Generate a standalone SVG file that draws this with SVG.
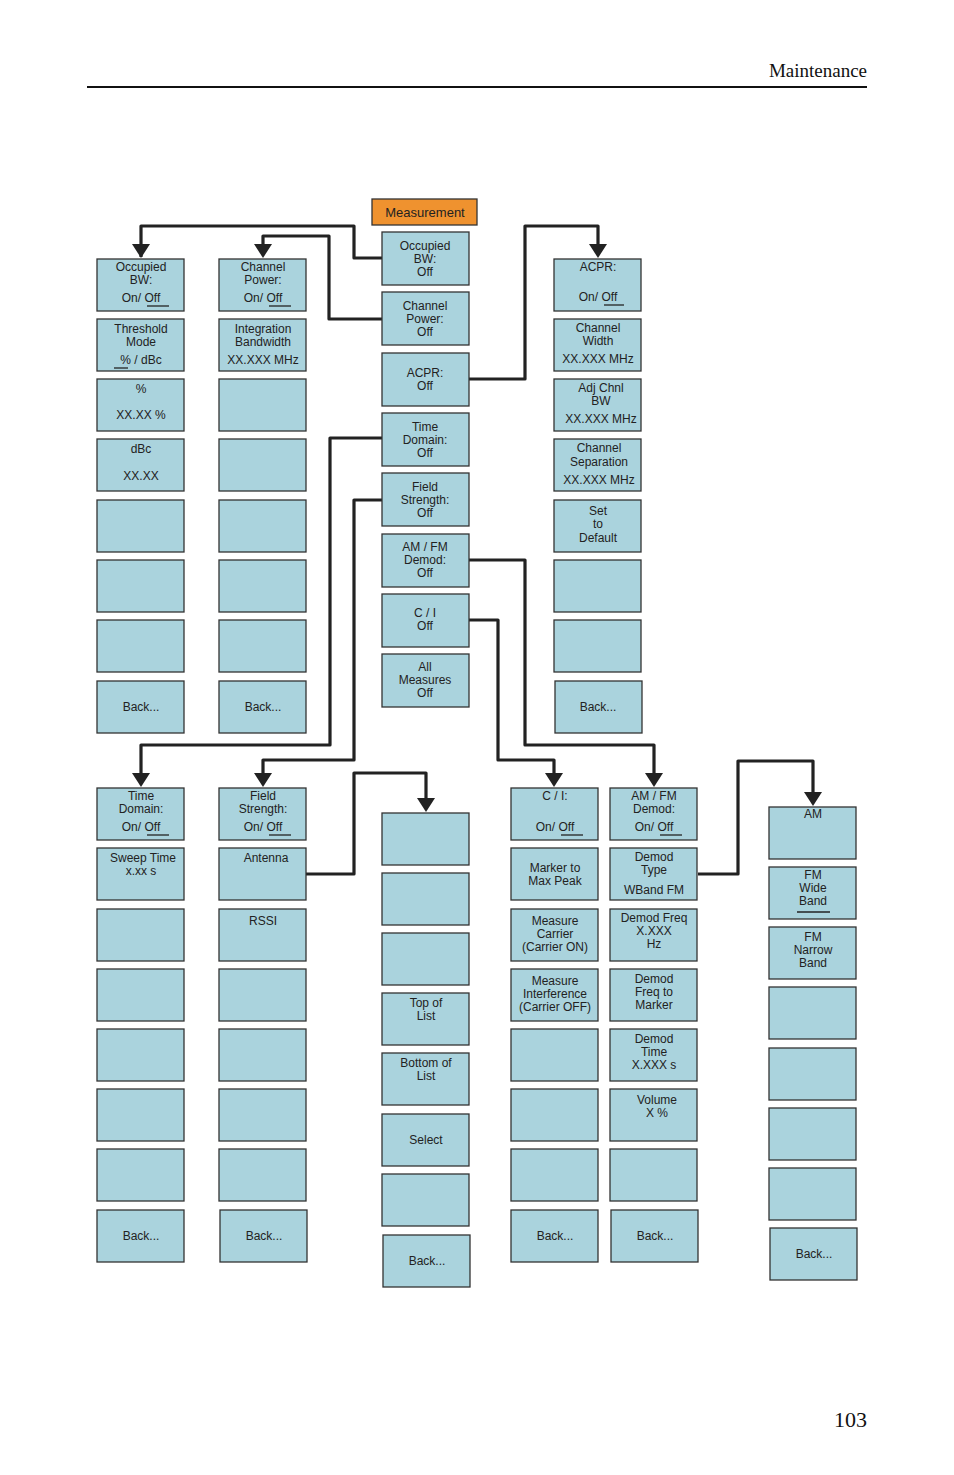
<svg xmlns="http://www.w3.org/2000/svg" width="954" height="1475" viewBox="0 0 954 1475">
<style>
.b{fill:#aad3dd;stroke:#333;stroke-width:1.3}
text{font-family:"Liberation Sans",Arial,sans-serif;font-size:12px;fill:#222;text-anchor:middle}
.u{stroke:#222;stroke-width:1.3}
.c{fill:none;stroke:#222;stroke-width:3.2;stroke-linejoin:round}
.hd{font-family:"Liberation Serif",serif;font-size:19px;text-anchor:end;fill:#111}
</style>
<defs><marker id="a" markerWidth="6" markerHeight="5" refX="3" refY="5" orient="auto" markerUnits="strokeWidth" viewBox="0 0 6 5"><path d="M0,0H6L3,5z" fill="#222"/></marker>
<marker id="ad" viewBox="0 0 18 14" refX="9" refY="14" markerWidth="18" markerHeight="14" markerUnits="userSpaceOnUse" orient="auto-start-reverse"><path d="M0,0H18L9,14z" fill="#222"/></marker></defs>
<text class="hd" x="867" y="77">Maintenance</text>
<line x1="87" y1="87" x2="867" y2="87" stroke="#111" stroke-width="2"/>
<text class="hd" x="867" y="1427" style="font-size:22px">103</text>
<g id="connectors">
<path class="c" d="M382,258H354V226H141V257" marker-end="url(#ad)" style="marker-end:none"/>
<path d="M132,244H150L141,258z" fill="#222"/>
<path class="c" d="M382,319H329V236H263V246"/><path d="M254,244H272L263,258z" fill="#222"/>
<path class="c" d="M469,379H525V226H598V246"/><path d="M589,244H607L598,258z" fill="#222"/>
<path class="c" d="M382,438H330V745H141V775"/><path d="M132,773H150L141,787z" fill="#222"/>
<path class="c" d="M382,500H354V760H263V775"/><path d="M254,773H272L263,787z" fill="#222"/>
<path class="c" d="M469,560H525V745H654V775"/><path d="M645,773H663L654,787z" fill="#222"/>
<path class="c" d="M469,620H498V760H554V775"/><path d="M545,773H563L554,787z" fill="#222"/>
<path class="c" d="M306,874H354V773H426V800"/><path d="M417,798H435L426,812z" fill="#222"/>
<path class="c" d="M698,874H738V761H813V794"/><path d="M804,792H822L813,806z" fill="#222"/>
</g>
<g id="measurement"><rect x="372" y="199" width="105" height="26" fill="#ef922f" stroke="#333" stroke-width="1.3"/><text x="425" y="217" style="font-size:13px">Measurement</text></g>
<!-- top col1 -->
<g id="t1a"><rect class="b" x="97" y="259" width="87" height="52"/><text x="141" y="271">Occupied</text><text x="141" y="284">BW:</text><text x="141" y="302">On/  Off</text><line class="u" x1="147" y1="306" x2="169" y2="306"/></g>
<g id="t1b"><rect class="b" x="97" y="319" width="87" height="52"/><text x="141" y="333">Threshold</text><text x="141" y="346">Mode</text><text x="141" y="364">%  /  dBc</text><line class="u" x1="114" y1="368" x2="128" y2="368"/></g>
<g id="t1c"><rect class="b" x="97" y="379" width="87" height="52"/><text x="141" y="393">%</text><text x="141" y="419">XX.XX %</text></g>
<g id="t1d"><rect class="b" x="97" y="439" width="87" height="52"/><text x="141" y="453">dBc</text><text x="141" y="480">XX.XX</text></g>
<g id="t1e"><rect class="b" x="97" y="500" width="87" height="52"/></g>
<g id="t1f"><rect class="b" x="97" y="560" width="87" height="52"/></g>
<g id="t1g"><rect class="b" x="97" y="620" width="87" height="52"/></g>
<g id="t1h"><rect class="b" x="97" y="681" width="87" height="52"/><text x="141" y="711">Back...</text></g>
<!-- top col2 -->
<g id="t2a"><rect class="b" x="219" y="259" width="87" height="52"/><text x="263" y="271">Channel</text><text x="263" y="284">Power:</text><text x="263" y="302">On/  Off</text><line class="u" x1="269" y1="306" x2="291" y2="306"/></g>
<g id="t2b"><rect class="b" x="219" y="319" width="87" height="52"/><text x="263" y="333">Integration</text><text x="263" y="346">Bandwidth</text><text x="263" y="364">XX.XXX MHz</text></g>
<g id="t2c"><rect class="b" x="219" y="379" width="87" height="52"/></g>
<g id="t2d"><rect class="b" x="219" y="439" width="87" height="52"/></g>
<g id="t2e"><rect class="b" x="219" y="500" width="87" height="52"/></g>
<g id="t2f"><rect class="b" x="219" y="560" width="87" height="52"/></g>
<g id="t2g"><rect class="b" x="219" y="620" width="87" height="52"/></g>
<g id="t2h"><rect class="b" x="219" y="681" width="87" height="52"/><text x="263" y="711">Back...</text></g>
<!-- center col -->
<g id="m1"><rect class="b" x="382" y="232" width="87" height="53"/><text x="425" y="250">Occupied</text><text x="425" y="263">BW:</text><text x="425" y="276">Off</text></g>
<g id="m2"><rect class="b" x="382" y="292" width="87" height="53"/><text x="425" y="310">Channel</text><text x="425" y="323">Power:</text><text x="425" y="336">Off</text></g>
<g id="m3"><rect class="b" x="382" y="353" width="87" height="53"/><text x="425" y="377">ACPR:</text><text x="425" y="390">Off</text></g>
<g id="m4"><rect class="b" x="382" y="413" width="87" height="53"/><text x="425" y="431">Time</text><text x="425" y="444">Domain:</text><text x="425" y="457">Off</text></g>
<g id="m5"><rect class="b" x="382" y="473" width="87" height="53"/><text x="425" y="491">Field</text><text x="425" y="504">Strength:</text><text x="425" y="517">Off</text></g>
<g id="m6"><rect class="b" x="382" y="534" width="87" height="53"/><text x="425" y="551">AM / FM</text><text x="425" y="564">Demod:</text><text x="425" y="577">Off</text></g>
<g id="m7"><rect class="b" x="382" y="594" width="87" height="53"/><text x="425" y="617">C / I</text><text x="425" y="630">Off</text></g>
<g id="m8"><rect class="b" x="382" y="654" width="87" height="53"/><text x="425" y="671">All</text><text x="425" y="684">Measures</text><text x="425" y="697">Off</text></g>
<!-- right col -->
<g id="r1"><rect class="b" x="554" y="259" width="87" height="52"/><text x="598" y="271">ACPR:</text><text x="598" y="301">On/  Off</text><line class="u" x1="604" y1="305" x2="624" y2="305"/></g>
<g id="r2"><rect class="b" x="554" y="319" width="87" height="52"/><text x="598" y="332">Channel</text><text x="598" y="345">Width</text><text x="598" y="363">XX.XXX MHz</text></g>
<g id="r3"><rect class="b" x="554" y="379" width="87" height="52"/><text x="601" y="392">Adj Chnl</text><text x="601" y="405">BW</text><text x="601" y="423">XX.XXX MHz</text></g>
<g id="r4"><rect class="b" x="554" y="439" width="87" height="52"/><text x="599" y="452">Channel</text><text x="599" y="466">Separation</text><text x="599" y="484">XX.XXX MHz</text></g>
<g id="r5"><rect class="b" x="554" y="500" width="87" height="52"/><text x="598" y="515">Set</text><text x="598" y="528">to</text><text x="598" y="542">Default</text></g>
<g id="r6"><rect class="b" x="554" y="560" width="87" height="52"/></g>
<g id="r7"><rect class="b" x="554" y="620" width="87" height="52"/></g>
<g id="r8"><rect class="b" x="555" y="681" width="87" height="52"/><text x="598" y="711">Back...</text></g>
<!-- bottom col1 -->
<g id="b1a"><rect class="b" x="97" y="788" width="87" height="52"/><text x="141" y="800">Time</text><text x="141" y="813">Domain:</text><text x="141" y="831">On/  Off</text><line class="u" x1="147" y1="835" x2="169" y2="835"/></g>
<g id="b1b"><rect class="b" x="97" y="848" width="87" height="52"/><text x="143" y="862">Sweep Time</text><text x="141" y="875">x.xx  s</text></g>
<g id="b1c"><rect class="b" x="97" y="909" width="87" height="52"/></g>
<g id="b1d"><rect class="b" x="97" y="969" width="87" height="52"/></g>
<g id="b1e"><rect class="b" x="97" y="1029" width="87" height="52"/></g>
<g id="b1f"><rect class="b" x="97" y="1089" width="87" height="52"/></g>
<g id="b1g"><rect class="b" x="97" y="1149" width="87" height="52"/></g>
<g id="b1h"><rect class="b" x="97" y="1210" width="87" height="52"/><text x="141" y="1240">Back...</text></g>
<!-- bottom col2 -->
<g id="b2a"><rect class="b" x="219" y="788" width="87" height="52"/><text x="263" y="800">Field</text><text x="263" y="813">Strength:</text><text x="263" y="831">On/  Off</text><line class="u" x1="269" y1="835" x2="291" y2="835"/></g>
<g id="b2b"><rect class="b" x="219" y="848" width="87" height="52"/><text x="266" y="862">Antenna</text></g>
<g id="b2c"><rect class="b" x="219" y="909" width="87" height="52"/><text x="263" y="925">RSSI</text></g>
<g id="b2d"><rect class="b" x="219" y="969" width="87" height="52"/></g>
<g id="b2e"><rect class="b" x="219" y="1029" width="87" height="52"/></g>
<g id="b2f"><rect class="b" x="219" y="1089" width="87" height="52"/></g>
<g id="b2g"><rect class="b" x="219" y="1149" width="87" height="52"/></g>
<g id="b2h"><rect class="b" x="220" y="1210" width="87" height="52"/><text x="264" y="1240">Back...</text></g>
<!-- bottom col3 -->
<g id="b3a"><rect class="b" x="382" y="813" width="87" height="52"/></g>
<g id="b3b"><rect class="b" x="382" y="873" width="87" height="52"/></g>
<g id="b3c"><rect class="b" x="382" y="933" width="87" height="52"/></g>
<g id="b3d"><rect class="b" x="382" y="993" width="87" height="52"/><text x="426" y="1007">Top of</text><text x="426" y="1020">List</text></g>
<g id="b3e"><rect class="b" x="382" y="1053" width="87" height="52"/><text x="426" y="1067">Bottom of</text><text x="426" y="1080">List</text></g>
<g id="b3f"><rect class="b" x="382" y="1114" width="87" height="52"/><text x="426" y="1144">Select</text></g>
<g id="b3g"><rect class="b" x="382" y="1174" width="87" height="52"/></g>
<g id="b3h"><rect class="b" x="383" y="1235" width="87" height="52"/><text x="427" y="1265">Back...</text></g>
<!-- bottom col4 -->
<g id="b4a"><rect class="b" x="511" y="788" width="87" height="52"/><text x="555" y="800">C / I:</text><text x="555" y="831">On/  Off</text><line class="u" x1="561" y1="835" x2="583" y2="835"/></g>
<g id="b4b"><rect class="b" x="511" y="848" width="87" height="52"/><text x="555" y="872">Marker to</text><text x="555" y="885">Max Peak</text></g>
<g id="b4c"><rect class="b" x="511" y="909" width="87" height="52"/><text x="555" y="925">Measure</text><text x="555" y="938">Carrier</text><text x="555" y="951">(Carrier ON)</text></g>
<g id="b4d"><rect class="b" x="511" y="969" width="87" height="52"/><text x="555" y="985">Measure</text><text x="555" y="998">Interference</text><text x="555" y="1011">(Carrier OFF)</text></g>
<g id="b4e"><rect class="b" x="511" y="1029" width="87" height="52"/></g>
<g id="b4f"><rect class="b" x="511" y="1089" width="87" height="52"/></g>
<g id="b4g"><rect class="b" x="511" y="1149" width="87" height="52"/></g>
<g id="b4h"><rect class="b" x="511" y="1210" width="87" height="52"/><text x="555" y="1240">Back...</text></g>
<!-- bottom col5 -->
<g id="b5a"><rect class="b" x="610" y="788" width="87" height="52"/><text x="654" y="800">AM / FM</text><text x="654" y="813">Demod:</text><text x="654" y="831">On/  Off</text><line class="u" x1="660" y1="835" x2="682" y2="835"/></g>
<g id="b5b"><rect class="b" x="610" y="848" width="87" height="52"/><text x="654" y="861">Demod</text><text x="654" y="874">Type</text><text x="654" y="894">WBand FM</text></g>
<g id="b5c"><rect class="b" x="610" y="909" width="87" height="52"/><text x="654" y="922">Demod Freq</text><text x="654" y="935">X.XXX</text><text x="654" y="948">Hz</text></g>
<g id="b5d"><rect class="b" x="610" y="969" width="87" height="52"/><text x="654" y="983">Demod</text><text x="654" y="996">Freq to</text><text x="654" y="1009">Marker</text></g>
<g id="b5e"><rect class="b" x="610" y="1029" width="87" height="52"/><text x="654" y="1043">Demod</text><text x="654" y="1056">Time</text><text x="654" y="1069">X.XXX  s</text></g>
<g id="b5f"><rect class="b" x="610" y="1089" width="87" height="52"/><text x="657" y="1104">Volume</text><text x="657" y="1117">X %</text></g>
<g id="b5g"><rect class="b" x="610" y="1149" width="87" height="52"/></g>
<g id="b5h"><rect class="b" x="611" y="1210" width="87" height="52"/><text x="655" y="1240">Back...</text></g>
<!-- bottom col6 -->
<g id="b6a"><rect class="b" x="769" y="807" width="87" height="52"/><text x="813" y="818">AM</text></g>
<g id="b6b"><rect class="b" x="769" y="867" width="87" height="52"/><text x="813" y="879">FM</text><text x="813" y="892">Wide</text><text x="813" y="905">Band</text><line class="u" x1="797" y1="912" x2="830" y2="912"/></g>
<g id="b6c"><rect class="b" x="769" y="927" width="87" height="52"/><text x="813" y="941">FM</text><text x="813" y="954">Narrow</text><text x="813" y="967">Band</text></g>
<g id="b6d"><rect class="b" x="769" y="987" width="87" height="52"/></g>
<g id="b6e"><rect class="b" x="769" y="1048" width="87" height="52"/></g>
<g id="b6f"><rect class="b" x="769" y="1108" width="87" height="52"/></g>
<g id="b6g"><rect class="b" x="769" y="1168" width="87" height="52"/></g>
<g id="b6h"><rect class="b" x="770" y="1228" width="87" height="52"/><text x="814" y="1258">Back...</text></g>
</svg>
